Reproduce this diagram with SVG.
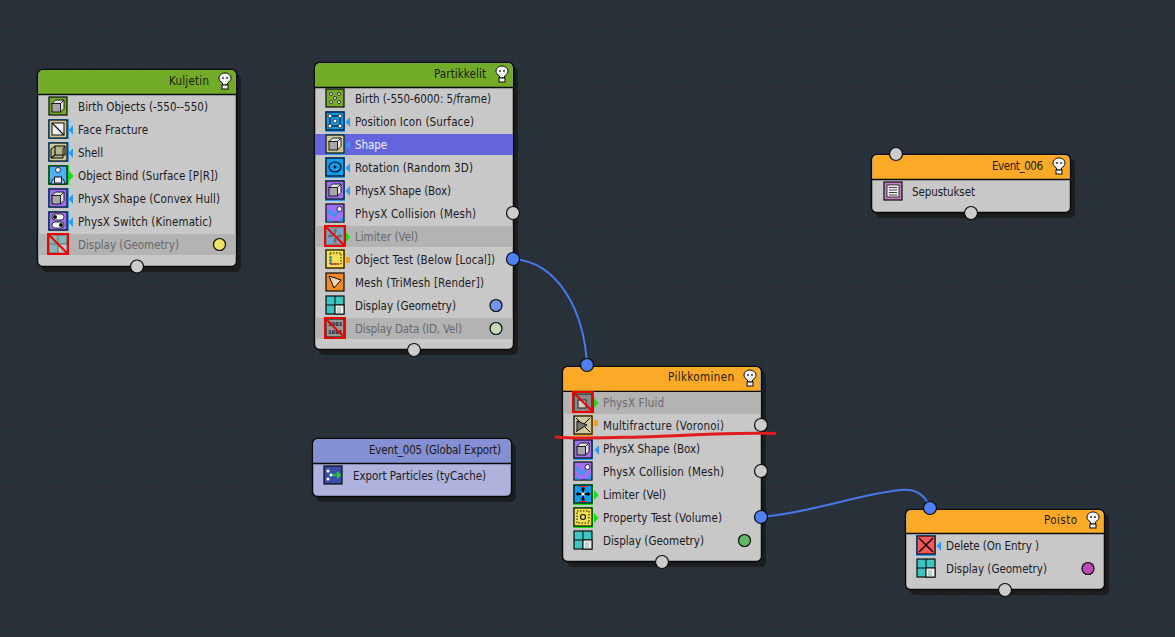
<svg xmlns="http://www.w3.org/2000/svg" xmlns:xlink="http://www.w3.org/1999/xlink" width="1175" height="637" viewBox="0 0 1175 637">
<style>
text{font-family:"DejaVu Sans","Liberation Sans",Arial,sans-serif;font-stretch:condensed;font-size:11.5px;fill:#1a1a24}
.title{text-anchor:end;fill:#1c1a12}
.dis{fill:#68686c}
.sel{fill:#f0f0f8}
.body{fill:#c8c8c8;stroke:#0a0a0a;stroke-width:1.5}
.shadow{fill:#1b1d1f}
.hline{stroke:#0a0a0a;stroke-width:1.5}
.rowdis{fill:#b3b3b3}
.port{stroke:#0a0a0a;stroke-width:1.2}
.pg{fill:#cccccc}
.pb{fill:#4f81f5}
.wire{fill:none;stroke:#4678ee;stroke-width:2}
.ib{stroke:#0a0a0a;stroke-width:1.2}
.ol{fill:none;stroke:#0a0a0a;stroke-width:1.1}
.lw{fill:#fff;stroke:#0a0a0a;stroke-width:.8}
.off{fill:none;stroke:#f00000;stroke-width:2}
.mono{font-family:"Liberation Mono",monospace;font-size:6px;font-stretch:normal;font-weight:bold;fill:#111}
</style>
<defs>
<pattern id="grid" width="25" height="25" patternUnits="userSpaceOnUse" x="-8.5" y="-18.5">
<path d="M25 0V25M0 25H25" fill="none" stroke="#233a42" stroke-width="2"/>
</pattern>
<g id="bulb">
<path d="M-2.500 4V2C-4.800 .6-6-1-6-3C-6-6-3.200-8 0-8S6-6 6-3C6-1 4.800 .6 2.500 2V4Z" fill="#f8f8f8" stroke="#0a0a0a"/>
<rect x="-3" y="4" width="6" height="4" fill="#f8f8f8" stroke="#0a0a0a"/>
<circle cx="-2" cy="-3" r="1.100" fill="#444"/><circle cx="2" cy="-3" r="1.100" fill="#444"/>
</g>
<path id="tl" d="M0 -5L-4.500 0L0 5Z" fill="#2c9cf0"/>
<path id="tg" d="M0 -5L4.500 0L0 5Z" fill="#11e011"/>
<rect id="to" x="0" y="-3" width="4" height="6" fill="#f0a020"/>
<g id="cube"><path d="M-6-2.500L-2.500-6H6V2.500L2.500 6Z" fill="#e4e4e4" stroke="#0a0a0a" stroke-width=".9"/><rect x="-6" y="-2.500" width="8.500" height="8.500" fill="#a8a8a8" stroke="#0a0a0a" stroke-width=".9"/><path d="M2.500-2.500L6-6" stroke="#0a0a0a" stroke-width=".9"/></g>
<g id="display"><rect x="-9" y="-9" width="18" height="18" class="ib" fill="#3fc4c4"/><path d="M0-9V9M-9 0H9" stroke="#0a0a0a"/><rect x="0" y="0" width="9" height="9" fill="#eee" stroke="#0a0a0a"/><path d="M2.500 3H6.500M2.500 5H6.500M2.500 7H6.500" stroke="#138a8a" stroke-dasharray="1 1"/></g>
<g id="physx"><rect x="-9" y="-9" width="18" height="18" class="ib" fill="#a070f4"/><use xlink:href="#cube"/></g>
<g id="coll"><rect x="-9" y="-9" width="18" height="18" class="ib" fill="#a070f4"/><path d="M-7-3L-1 3L4-3" fill="none" stroke="#2c9cf0" stroke-width="2.500"/><path d="M-8 5L-1 8.500H-8ZM8 3V8.500H3Z" fill="#2c9cf0"/><circle cx="4.500" cy="-4" r="2.500" class="lw"/></g>
<g id="limiter"><rect x="-9" y="-9" width="18" height="18" class="ib" fill="#109cf0"/><path d="M0-5.500V5.500M-6 0H6" stroke="#0a0a0a" stroke-width="2"/><path d="M-2.500-4.500L0-7.500L2.500-4.500ZM-2.500 4.500L0 7.500L2.500 4.500ZM-4.500-2.500L-7.500 0L-4.500 2.500ZM4.500-2.500L7.500 0L4.500 2.500Z" fill="#0a0a0a"/><path d="M-4-7.500H4M-4 7.500H4" stroke="#e02020"/><rect x="-1.500" y="-1.500" width="3" height="3" fill="#fff"/></g>
<g id="offmark"><rect x="-10" y="-10" width="20" height="20" class="off"/><path d="M-10-10L10 10" class="off"/></g>
</defs>
<rect width="1175" height="637" fill="#2a3038"/>
<rect width="1175" height="637" fill="url(#grid)"/>

<g id="connectors">
<path class="wire" d="M513 259C558 262 584 310 587 365"/>
<path class="wire" d="M761 517C810 513 855 495 900 490C918 488 926 496 930 508"/>
</g>

<g id="kuljetin">
<rect class="shadow" x="42" y="74" width="199" height="198" rx="5"/>
<rect class="body" x="37.500" y="69.500" width="199" height="197" rx="5"/>
<path d="M38.500 94V75a5 5 0 0 1 5-5H230.500a5 5 0 0 1 5 5V94Z" fill="#72ab28"/>
<path class="hline" d="M38 94.500H236"/>
<rect class="rowdis" x="38.500" y="234" width="197" height="21"/>
<text class="title" x="209" y="85" textLength="40">Kuljetin</text><use xlink:href="#bulb" x="225" y="81"/>
<rect class="ib" x="49" y="97" width="18" height="18" fill="#72ab28"/><use xlink:href="#cube" x="58" y="106"/>
<rect x="48" y="119" width="21" height="20" fill="#2c9cf0"/><rect class="ib" x="49" y="120" width="18" height="18" fill="#cfc89a"/><rect x="52" y="123" width="12" height="12" fill="#f2f2f2" stroke="#0a0a0a"/><path class="ol" d="M52 123L64 135"/><use xlink:href="#tl" x="73" y="130"/>
<rect x="48" y="142" width="21" height="20" fill="#2c9cf0"/><rect class="ib" x="49" y="143" width="18" height="18" fill="#cfc89a"/><path d="M51 149L55 146H65L63 149V158H51Z" fill="#b8b48a" stroke="#0a0a0a"/><path class="ol" d="M55 146V155H65V146M51 158L55 155"/><use xlink:href="#tl" x="73" y="153"/>
<rect x="48" y="165" width="21" height="20" fill="#11e011"/><rect class="ib" x="49" y="166" width="18" height="18" fill="#4cb0f8"/><circle cx="58" cy="170" r="2.500" class="lw"/><path d="M51 184C52 175 64 175 65 184Z" fill="#9ad0fa" stroke="#0a0a0a" stroke-width=".9"/><rect x="54.500" y="177" width="7" height="6" fill="#eee" stroke="#0a0a0a" stroke-width=".9"/><use xlink:href="#tg" x="69" y="176"/>
<rect x="48" y="188" width="21" height="20" fill="#2c9cf0"/><use xlink:href="#physx" x="58" y="198"/><use xlink:href="#tl" x="73" y="199"/>
<rect x="48" y="211" width="21" height="20" fill="#2c9cf0"/><rect class="ib" x="49" y="212" width="18" height="18" fill="#a070f4"/><rect x="52" y="214" width="12" height="6" rx="3" class="lw"/><rect x="52" y="222" width="12" height="6" rx="3" class="lw"/><circle cx="55" cy="217" r="2" fill="#111"/><circle cx="61" cy="225" r="2" fill="#111"/><use xlink:href="#tl" x="73" y="222"/>
<use xlink:href="#display" x="58" y="244" opacity=".4"/><use xlink:href="#offmark" x="58" y="244"/>
<text x="78" y="111" textLength="130">Birth Objects (-550--550)</text>
<text x="78" y="134" textLength="70">Face Fracture</text>
<text x="78" y="157" textLength="25">Shell</text>
<text x="78" y="180" textLength="140">Object Bind (Surface [P|R])</text>
<text x="78" y="203" textLength="142">PhysX Shape (Convex Hull)</text>
<text x="78" y="226" textLength="134">PhysX Switch (Kinematic)</text>
<text class="dis" x="78" y="249" textLength="101">Display (Geometry)</text>
<circle class="port" cx="219.500" cy="244.500" r="6" fill="#f0e468"/>
<circle class="port pg" cx="137" cy="266.500" r="6.500"/>
</g>

<g id="partikkelit">
<rect class="shadow" x="319" y="67" width="199" height="288" rx="5"/>
<rect class="body" x="314.500" y="62.500" width="199" height="287" rx="5"/>
<path d="M315.500 87V68a5 5 0 0 1 5-5H507.500a5 5 0 0 1 5 5V87Z" fill="#72ab28"/>
<path class="hline" d="M315 87.500H513"/>
<rect x="315" y="134" width="198" height="21" fill="#6464dc"/>
<rect class="rowdis" x="315.500" y="226" width="197" height="21"/>
<rect class="rowdis" x="315.500" y="318" width="197" height="21"/>
<text class="title" x="486" y="78" textLength="52">Partikkelit</text><use xlink:href="#bulb" x="502" y="74"/>
<rect class="ib" x="326" y="89" width="18" height="18" fill="#72ab28"/><g fill="#fff" stroke="#111" stroke-width=".8"><circle cx="331" cy="94" r="1.500"/><circle cx="339" cy="94" r="1.500"/><circle cx="335" cy="98" r="1.500"/><circle cx="331" cy="102" r="1.500"/><circle cx="339" cy="102" r="1.500"/></g>
<rect x="325" y="111" width="20" height="21" fill="#2c9cf0"/><rect class="ib" x="326" y="112" width="18" height="18" fill="#109cf0"/><rect class="ol" x="330" y="116" width="10" height="10"/><g fill="#fff" stroke="#111" stroke-width=".8"><circle cx="330" cy="116" r="2"/><circle cx="340" cy="116" r="2"/><circle cx="335" cy="121" r="2"/><circle cx="330" cy="126" r="2"/><circle cx="340" cy="126" r="2"/></g><use xlink:href="#tl" x="350" y="122"/>
<rect x="325" y="134" width="20" height="21" fill="#2c9cf0"/><rect class="ib" x="326" y="135" width="18" height="18" fill="#cfc89a"/><use xlink:href="#cube" x="335" y="144"/><use xlink:href="#tl" x="350" y="145"/>
<rect x="325" y="157" width="20" height="21" fill="#2c9cf0"/><rect class="ib" x="326" y="158" width="18" height="18" fill="#109cf0"/><ellipse class="ol" cx="335" cy="167" rx="6" ry="5" stroke-width="1.500"/><circle cx="335" cy="167" r="1.500" fill="#111"/><use xlink:href="#tl" x="350" y="168"/>
<rect x="325" y="180" width="20" height="21" fill="#2c9cf0"/><use xlink:href="#physx" x="335" y="190"/><use xlink:href="#tl" x="350" y="191"/>
<use xlink:href="#coll" x="335" y="213"/>
<use xlink:href="#limiter" x="335" y="236" opacity=".4"/><use xlink:href="#offmark" x="335" y="236"/><path d="M346 232L350 237L346 242Z" fill="#11e011"/>
<rect x="325" y="249" width="20" height="20" fill="#f0a020"/><rect class="ib" x="326" y="250" width="18" height="18" fill="#f4e050"/><rect x="330" y="253" width="11" height="11" fill="none" stroke="#0a0a0a" stroke-dasharray="1.500 1.500"/><path d="M331 264H339" stroke="#e02020" stroke-width="1.200"/><path d="M331 256V265" stroke="#1070e0" stroke-width="1.200"/><use xlink:href="#to" x="346" y="260"/>
<rect class="ib" x="326" y="273" width="18" height="18" fill="#f08a20"/><path d="M329 276L341 280L334 288Z" fill="#ecd8b0" stroke="#0a0a0a"/>
<use xlink:href="#display" x="335" y="305"/>
<rect x="326" y="319" width="18" height="18" fill="#999" stroke="#0a0a0a"/><text class="mono" x="328" y="326">1001</text><text class="mono" x="328" y="334">1001</text><use xlink:href="#offmark" x="335" y="328"/>
<text x="355" y="103" textLength="136">Birth (-550-6000: 5/frame)</text>
<text x="355" y="126" textLength="119">Position Icon (Surface)</text>
<text class="sel" x="355" y="149" textLength="32">Shape</text>
<text x="355" y="172" textLength="118">Rotation (Random 3D)</text>
<text x="355" y="195" textLength="96">PhysX Shape (Box)</text>
<text x="355" y="218" textLength="121">PhysX Collision (Mesh)</text>
<text class="dis" x="355" y="241" textLength="63">Limiter (Vel)</text>
<text x="355" y="264" textLength="140">Object Test (Below [Local])</text>
<text x="355" y="287" textLength="129">Mesh (TriMesh [Render])</text>
<text x="355" y="310" textLength="101">Display (Geometry)</text>
<text class="dis" x="355" y="333" textLength="107">Display Data (ID, Vel)</text>
<circle class="port pg" cx="513" cy="213" r="6.500"/>
<circle class="port pb" cx="513" cy="259" r="6.500"/>
<circle class="port" cx="496" cy="305.500" r="6" fill="#6e96f0"/>
<circle class="port" cx="496" cy="328.500" r="6" fill="#c4dab8"/>
<circle class="port pg" cx="414" cy="350" r="6.500"/>
</g>

<g id="event-005">
<rect class="shadow" x="317" y="443" width="199" height="59" rx="5"/>
<rect x="312.500" y="438.500" width="199" height="58" rx="5" fill="#aeb2dc" stroke="#0a0a0a" stroke-width="1.500"/>
<path d="M313.500 463V444a5 5 0 0 1 5-5H505a5 5 0 0 1 5 5V463Z" fill="#848fd4"/>
<path class="hline" d="M313 463.500H511"/>
<text class="title" x="501" y="454" textLength="132">Event_005 (Global Export)</text>
<rect class="ib" x="324" y="466" width="18" height="18" fill="#3a4ea8"/><g fill="#fff"><circle cx="328" cy="471" r="1.500"/><circle cx="331" cy="475" r="1.500"/><circle cx="328" cy="479" r="1.500"/></g><path d="M332 475H340M337 472L340 475L337 478" fill="none" stroke="#20e020" stroke-width="1.500"/>
<text x="353" y="480" textLength="133">Export Particles (tyCache)</text>
</g>

<g id="pilkkominen">
<rect class="shadow" x="567" y="371" width="199" height="196" rx="5"/>
<rect class="body" x="562.500" y="366.500" width="199" height="195" rx="5"/>
<path d="M563.500 391V372a5 5 0 0 1 5-5H755a5 5 0 0 1 5 5V391Z" fill="#fbaa28"/>
<path class="hline" d="M563 391.500H761"/>
<rect class="rowdis" x="563.500" y="392" width="197" height="22"/>
<text class="title" x="734" y="381" textLength="66">Pilkkominen</text><use xlink:href="#bulb" x="750" y="378"/>
<rect x="574" y="394" width="18" height="18" fill="#888" stroke="#0a0a0a"/><rect x="578" y="400" width="8" height="8" fill="#ccc" stroke="#222"/><use xlink:href="#offmark" x="583" y="402"/><use xlink:href="#tg" x="594" y="403"/>
<rect x="573" y="415" width="20" height="21" fill="#f0a020"/><rect class="ib" x="574" y="416" width="18" height="18" fill="#cfc89a"/><path d="M576 418L590 432M590 418L576 432" stroke="#0a0a0a"/><path d="M577 421L587 425L577 431Z" fill="#777" stroke="#111"/><use xlink:href="#to" x="594" y="423"/>
<rect x="573" y="439" width="20" height="21" fill="#2c9cf0"/><use xlink:href="#physx" x="583" y="449"/><use xlink:href="#tl" x="599" y="450"/>
<use xlink:href="#coll" x="583" y="471"/>
<rect x="573" y="484" width="20" height="21" fill="#11e011"/><use xlink:href="#limiter" x="583" y="494"/><use xlink:href="#tg" x="594" y="495"/>
<rect x="573" y="507" width="20" height="21" fill="#11e011"/><rect class="ib" x="574" y="508" width="18" height="18" fill="#f4e050"/><rect x="577" y="511" width="12" height="12" fill="none" stroke="#0a0a0a" stroke-dasharray="1.500 1.500"/><circle class="ol" cx="583" cy="517" r="2.500"/><use xlink:href="#tg" x="594" y="518"/>
<use xlink:href="#display" x="583" y="540"/>
<text class="dis" x="603" y="407" textLength="61">PhysX Fluid</text>
<text x="603" y="430" textLength="121">Multifracture (Voronoi)</text>
<text x="603" y="453" textLength="97">PhysX Shape (Box)</text>
<text x="603" y="476" textLength="121">PhysX Collision (Mesh)</text>
<text x="603" y="499" textLength="63">Limiter (Vel)</text>
<text x="603" y="522" textLength="119">Property Test (Volume)</text>
<text x="603" y="545" textLength="101">Display (Geometry)</text>
<circle class="port pb" cx="587" cy="365" r="6.500"/>
<circle class="port pg" cx="761" cy="425" r="6.500"/>
<circle class="port pg" cx="761" cy="471" r="6.500"/>
<circle class="port pb" cx="761" cy="517" r="6.500"/>
<circle class="port" cx="744.500" cy="540.500" r="6" fill="#62b85e"/>
<circle class="port pg" cx="662" cy="562" r="6.500"/>
</g>

<path id="red-stroke" d="M556 437C575 439 600 438 640 437C690 436 720 432 775 433.500" fill="none" stroke="#e01c1c" stroke-width="3" stroke-linecap="round"/>

<g id="event-006">
<rect class="shadow" x="876" y="159" width="199" height="59" rx="5"/>
<rect class="body" x="871.500" y="154.500" width="199" height="58" rx="5"/>
<path d="M872.500 179V160a5 5 0 0 1 5-5H1064a5 5 0 0 1 5 5V179Z" fill="#fbaa28"/>
<path class="hline" d="M872 179.500H1070"/>
<text class="title" x="1043" y="170" textLength="51">Event_006</text><use xlink:href="#bulb" x="1059" y="166"/>
<rect class="ib" x="884" y="182" width="18" height="18" fill="#c080c0"/><rect x="887" y="185" width="12" height="12" fill="#f4f4f4" stroke="#111" stroke-width=".8"/><path d="M889 187.500H897M889 190H897M889 192.500H897M889 195H897" stroke="#111" stroke-width=".8"/>
<text x="912" y="196" textLength="63">Sepustukset</text>
<circle class="port pg" cx="896" cy="154" r="6.500"/>
<circle class="port pg" cx="971" cy="213" r="6.500"/>
</g>

<g id="poisto">
<rect class="shadow" x="910" y="514" width="199" height="81" rx="5"/>
<rect class="body" x="905.500" y="509.500" width="199" height="80" rx="5"/>
<path d="M906.500 534V515a5 5 0 0 1 5-5H1098a5 5 0 0 1 5 5V534Z" fill="#fbaa28"/>
<path class="hline" d="M906 533.500H1104"/>
<text class="title" x="1077" y="524" textLength="33">Poisto</text><use xlink:href="#bulb" x="1093" y="520"/>
<rect x="916" y="535" width="20" height="21" fill="#2c9cf0"/><rect class="ib" x="917" y="536" width="18" height="18" fill="#f85858"/><path d="M919 538L933 552M933 538L919 552" stroke="#0a0a0a" stroke-width="1.500"/><use xlink:href="#tl" x="941" y="546"/>
<use xlink:href="#display" x="926" y="568"/>
<text x="946" y="550" textLength="93">Delete (On Entry )</text>
<text x="946" y="573" textLength="101">Display (Geometry)</text>
<circle class="port pb" cx="930" cy="508" r="6.500"/>
<circle class="port" cx="1088" cy="568.500" r="6" fill="#c048b8"/>
<circle class="port pg" cx="1005" cy="590" r="6.500"/>
</g>
</svg>
